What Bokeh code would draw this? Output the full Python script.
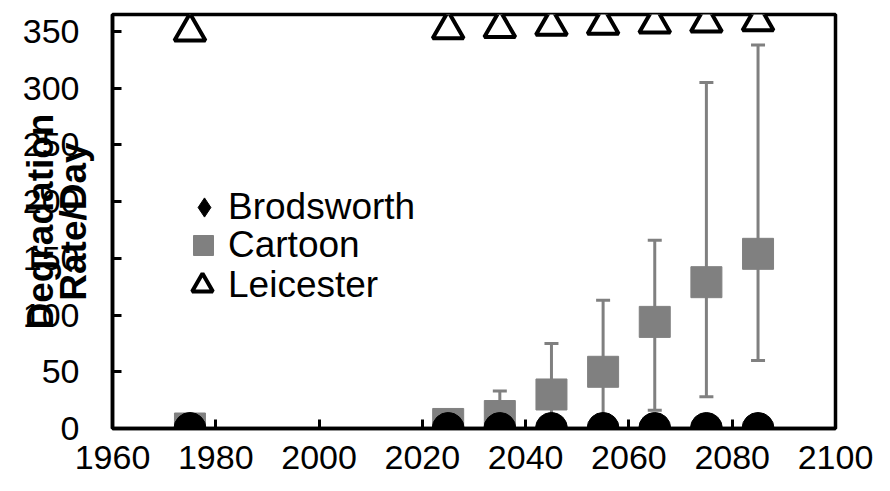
from bokeh.plotting import figure
from bokeh.models import (ColumnDataSource, Whisker, TeeHead, Legend, LegendItem,
                          FixedTicker, Range1d)
from bokeh.embed import file_html
from bokeh.resources import INLINE

# ---- data ----
years = [1975, 2025, 2035, 2045, 2055, 2065, 2075, 2085]
brodsworth = [0, 0, 0, 0, 0, 0, 0, 0]
cartoon = [0, 4, 11, 30, 50, 94, 129, 154]
cartoon_upper = [0, 8, 33, 75, 113, 166, 305, 338]
cartoon_lower = [0, 0, 0, 0, 0, 16, 28, 60]
leicester = [350, 352, 353, 355, 356, 357, 358, 359]
other = [0, 0, 0, 0, 0, 0, 0, 0]
x_ticks = [1960, 1980, 2000, 2020, 2040, 2060, 2080, 2100]
y_ticks = [0, 50, 100, 150, 200, 250, 300, 350]
y_title = "Degradation\nRate/Day"
series_names = ["Brodsworth", "Cartoon", "Leicester"]

FONT = "Liberation Sans"

p = figure(width=880, height=485, output_backend="svg", toolbar_location=None,
           x_range=Range1d(1960, 2100), y_range=Range1d(0, 365),
           min_border_left=112, min_border_right=45, min_border_top=14,
           min_border_bottom=57)
p.background_fill_color = "white"
p.border_fill_color = "white"
p.outline_line_color = "black"
p.outline_line_width = 3.5
p.outline_line_alpha = 1.0
p.grid.visible = False

for ax, ticks in ((p.xaxis[0], x_ticks), (p.yaxis[0], y_ticks)):
    ax.ticker = FixedTicker(ticks=ticks)
    ax.axis_line_color = "black"
    ax.axis_line_width = 3.5
    ax.major_tick_in = 9
    ax.major_tick_out = 0
    ax.major_tick_line_width = 3
    ax.major_tick_line_color = "black"
    ax.minor_tick_line_color = None
    ax.major_label_text_font = FONT
    ax.major_label_text_font_size = "34px"
    ax.major_label_text_color = "black"
p.xaxis.major_label_standoff = 17
p.yaxis.major_label_standoff = 33

yax = p.yaxis[0]
yax.axis_label = y_title
yax.axis_label_text_font = FONT
yax.axis_label_text_font_style = "bold"
yax.axis_label_text_font_size = "37px"
yax.axis_label_text_color = "black"
yax.axis_label_text_line_height = 0.8
yax.axis_label_standoff = -74

src = ColumnDataSource(dict(x=years, b=brodsworth, c=cartoon, cu=cartoon_upper,
                            cl=cartoon_lower, l=leicester, o=other))

whisk = Whisker(source=src, base="x", upper="cu", lower="cl", dimension="height",
                line_color="#808080", line_width=3, level="underlay",
                upper_head=TeeHead(size=14, line_color="#808080", line_width=3),
                lower_head=TeeHead(size=14, line_color="#808080", line_width=3))
p.add_layout(whisk)

r_b = p.scatter("x", "b", source=src, marker="diamond", size=26,
                fill_color="black", line_color="black")
r_c = p.scatter("x", "c", source=src, marker="square", size=31,
                fill_color="#808080", line_color="#808080")
r_l = p.scatter("x", "l", source=src, marker="triangle", size=31,
                fill_color="white", line_color="black", line_width=4)
r_o = p.scatter("x", "o", source=src, marker="circle", size=32,
                fill_color="black", line_color="black")

# one legend per entry so each marker can have its own size
for name, rend, box, loc in ((series_names[0], r_b, 48, (68, 197)),
                             (series_names[1], r_c, 50, (66, 158)),
                             (series_names[2], r_l, 52, (64, 117))):
    lg = Legend(items=[LegendItem(label=name, renderers=[rend])],
                location=loc, padding=0, margin=0, spacing=0,
                glyph_width=box, glyph_height=box, label_height=box,
                label_standoff=0, label_text_font=FONT,
                label_text_font_size="37px", label_text_color="black",
                background_fill_alpha=0, border_line_color=None)
    p.add_layout(lg)

open("out.html", "w").write(file_html(p, INLINE))
